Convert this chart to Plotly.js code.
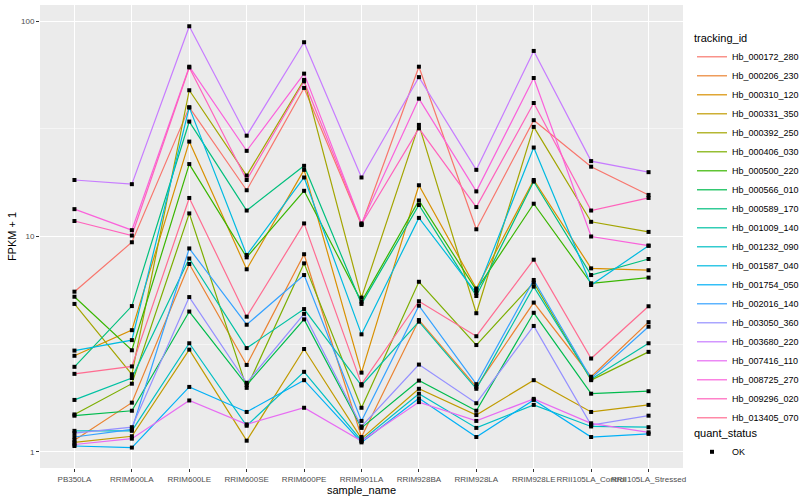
<!DOCTYPE html>
<html>
<head>
<meta charset="utf-8">
<script src="https://cdn.plot.ly/plotly-3.0.1.min.js"></script>
<style>html,body{margin:0;padding:0;background:#fff;}#chart{width:800px;height:500px;}</style>
</head>
<body>
<div id="chart"></div>
<script>
const categories = ["PB350LA","RRIM600LA","RRIM600LE","RRIM600SE","RRIM600PE","RRIM901LA","RRIM928BA","RRIM928LA","RRIM928LE","RRII105LA_Control","RRII105LA_Stressed"];
const seriesNames = ["Hb_000172_280","Hb_000206_230","Hb_000310_120","Hb_000331_350","Hb_000392_250","Hb_000406_030","Hb_000500_220","Hb_000566_010","Hb_000589_170","Hb_001009_140","Hb_001232_090","Hb_001587_040","Hb_001754_050","Hb_002016_140","Hb_003050_360","Hb_003680_220","Hb_007416_110","Hb_008725_270","Hb_009296_020","Hb_013405_070"];
const yTickValues = [1, 10, 100];
const yTickLabels = ["1", "10", "100"];
const quantStatus = "OK";

// FPKM + 1 per sample, in category order
const hb_000172_280 = [5.54, 9.4, 39.8, 16.4, 49.0, 11.3, 61.5, 10.8, 34.7, 21.1, 15.6];
const hb_000206_230 = [1.13, 1.69, 7.45, 2.53, 8.27, 1.17, 4.09, 2.0, 4.93, 2.23, 4.0];
const hb_000310_120 = [2.79, 3.67, 27.6, 7.04, 20.4, 2.33, 17.3, 5.73, 18.3, 7.11, 6.97];
const hb_000331_350 = [1.105, 1.18, 2.98, 1.125, 3.0, 1.15, 1.96, 1.48, 2.15, 1.53, 1.65];
const hb_000392_250 = [4.86, 2.29, 47.8, 19.2, 53.4, 5.2, 33.0, 4.4, 32.3, 11.7, 10.5];
const hb_000406_030 = [1.49, 2.07, 12.8, 1.98, 7.5, 1.60, 6.16, 3.13, 6.1, 2.15, 2.91];
const hb_000500_220 = [5.25, 2.96, 21.7, 8.0, 16.3, 4.98, 14.7, 5.63, 14.2, 6.06, 6.44];
const hb_000566_010 = [1.47, 1.55, 4.48, 2.04, 4.12, 1.29, 2.14, 1.55, 4.42, 1.86, 1.91];
const hb_000589_170 = [2.48, 4.75, 34.2, 13.2, 21.3, 4.86, 14.0, 5.29, 18.0, 6.62, 7.86];
const hb_001009_140 = [1.74, 2.2, 7.9, 3.03, 4.6, 2.03, 4.02, 1.96, 5.85, 2.17, 3.19];
const hb_001232_090 = [1.25, 1.25, 3.19, 1.32, 2.35, 1.125, 1.86, 1.29, 1.65, 1.31, 1.30];
const hb_001587_040 = [2.95, 3.30, 39.8, 8.2, 18.8, 3.51, 12.2, 5.46, 25.9, 5.95, 9.06];
const hb_001754_050 = [1.063, 1.045, 2.0, 1.53, 2.15, 1.105, 1.77, 1.17, 1.74, 1.17, 1.21];
const hb_002016_140 = [1.17, 1.27, 8.8, 3.89, 6.62, 1.39, 4.77, 2.06, 6.28, 2.19, 3.81];
const hb_003050_360 = [1.22, 1.30, 5.23, 2.09, 4.37, 1.31, 2.54, 1.68, 3.84, 1.33, 1.47];
const hb_003680_220 = [18.3, 17.5, 94.8, 29.4, 79.9, 18.8, 55.0, 20.4, 72.8, 22.4, 19.9];
const hb_007416_110 = [1.08, 1.15, 1.73, 1.34, 1.60, 1.12, 1.70, 1.39, 1.76, 1.355, 1.23];
const hb_008725_270 = [13.4, 10.7, 61.5, 25.0, 57.1, 11.5, 43.7, 16.2, 54.5, 10.0, 9.06];
const hb_009296_020 = [11.8, 10.1, 61.0, 18.3, 52.6, 11.4, 31.8, 13.7, 41.7, 13.2, 15.1];
const hb_013405_070 = [2.30, 2.49, 15.1, 4.24, 11.5, 2.06, 5.0, 3.44, 7.8, 2.71, 4.74];

const seriesValues = [hb_000172_280, hb_000206_230, hb_000310_120, hb_000331_350, hb_000392_250, hb_000406_030, hb_000500_220, hb_000566_010, hb_000589_170, hb_001009_140, hb_001232_090, hb_001587_040, hb_001754_050, hb_002016_140, hb_003050_360, hb_003680_220, hb_007416_110, hb_008725_270, hb_009296_020, hb_013405_070];

// ggplot2 default hue palette for 20 levels
const seriesColors = ["#F8766D","#EA8331","#D89000","#C09B00","#A3A500","#7CAE00","#39B600","#00BB4E","#00BF7D","#00C1A3","#00BFC4","#00BAE0","#00B0F6","#35A2FF","#9590FF","#C77CFF","#E76BF3","#FA62DB","#FF62BC","#FF6C91"];

const FONT = "Liberation Sans, Arial, Helvetica, sans-serif";

const traces = seriesNames.map((name, i) => ({
  type: "scatter",
  mode: "lines",
  name: name,
  x: categories,
  y: seriesValues[i],
  line: { color: seriesColors[i], width: 1.2 },
  legend: "legend",
  hoverinfo: "x+y+name"
}));

const px = [], py = [];
seriesValues.forEach(vals => vals.forEach((v, j) => { px.push(categories[j]); py.push(v); }));
traces.push({
  type: "scatter",
  mode: "markers",
  name: quantStatus,
  x: px,
  y: py,
  marker: { symbol: "square", size: 4, color: "black" },
  legend: "legend2"
});

const logMin = Math.log10(0.84), logMax = Math.log10(119);

const layout = {
  width: 800,
  height: 500,
  margin: { l: 40, r: 117, t: 5, b: 32, pad: 0 },
  paper_bgcolor: "#FFFFFF",
  plot_bgcolor: "#EBEBEB",
  font: { family: FONT, color: "#000000" },
  showlegend: true,
  xaxis: {
    type: "category",
    range: [-0.6, categories.length - 0.4],
    showgrid: true,
    gridcolor: "#FFFFFF",
    gridwidth: 1.1,
    zeroline: false,
    showline: false,
    ticks: "outside",
    ticklen: 3,
    tickwidth: 1,
    tickcolor: "#333333",
    tickangle: 0,
    tickfont: { family: FONT, size: 8, color: "#4D4D4D" },
    title: { text: "sample_name", font: { family: FONT, size: 11, color: "#000000" }, standoff: 2 },
    automargin: false
  },
  yaxis: {
    type: "log",
    range: [logMin, logMax],
    tickmode: "array",
    tickvals: yTickValues,
    ticktext: yTickLabels,
    showgrid: true,
    gridcolor: "#FFFFFF",
    gridwidth: 1.1,
    zeroline: false,
    showline: false,
    ticks: "outside",
    ticklen: 3,
    tickwidth: 1,
    tickcolor: "#333333",
    tickfont: { family: FONT, size: 8, color: "#4D4D4D" },
    minor: {
      tickmode: "array",
      tickvals: [Math.sqrt(10), Math.sqrt(1000)],
      showgrid: true,
      gridcolor: "#FFFFFF",
      gridwidth: 0.5,
      ticks: ""
    },
    title: { text: "FPKM + 1", font: { family: FONT, size: 11, color: "#000000" }, standoff: 2 },
    automargin: false
  },
  legend: {
    title: { text: "tracking_id", font: { family: FONT, size: 11, color: "#000000" } },
    font: { family: FONT, size: 9, color: "#000000" },
    xref: "container",
    yref: "container",
    x: 692 / 800,
    y: 1 - 28 / 500,
    xanchor: "left",
    yanchor: "top",
    maxheight: 470,
    bgcolor: "rgba(0,0,0,0)",
    itemwidth: 30,
    tracegroupgap: 0
  },
  legend2: {
    title: { text: "quant_status", font: { family: FONT, size: 11, color: "#000000" } },
    font: { family: FONT, size: 9, color: "#000000" },
    xref: "container",
    yref: "container",
    x: 692 / 800,
    y: 1 - 423 / 500,
    xanchor: "left",
    yanchor: "top",
    bgcolor: "rgba(0,0,0,0)",
    itemwidth: 30
  }
};

Plotly.newPlot("chart", traces, layout, { displayModeBar: false, staticPlot: true });
</script>
</body>
</html>
